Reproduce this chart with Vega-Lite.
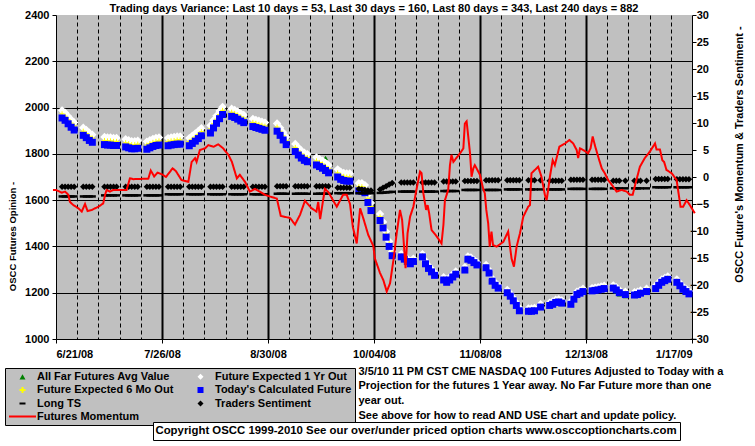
{
  "$schema": "https://vega.github.io/schema/vega-lite/v6.json",
  "width": 636,
  "height": 324,
  "autosize": {"type": "none"},
  "padding": {"left": 56, "top": 15, "right": 63, "bottom": 107},
  "background": "white",
  "config": {
    "font": "Liberation Sans",
    "view": {"fill": "#C0C0C0", "stroke": null},
    "axis": {"labelColor": "black", "tickColor": "black", "domainColor": "black", "gridColor": "black", "titleColor": "black", "labelFont": "Liberation Sans", "titleFont": "Liberation Sans", "labelFontWeight": "bold", "titleFontWeight": "bold", "labelFontSize": 11, "domainWidth": 1, "tickWidth": 1, "tickSize": 4, "labelOverlap": false},
    "legend": {"labelFont": "Liberation Sans", "labelColor": "black", "labelFontWeight": "bold", "labelFontSize": 11}
  },
  "title": {"text": "Trading days Variance:  Last 10 days = 53,  Last 30 days = 160,  Last 80 days = 343,  Last 240 days = 882", "anchor": "middle", "fontSize": 11, "fontWeight": "bold", "font": "Liberation Sans", "color": "black", "offset": 4, "dy": 9},
  "datasets": {
    "main": [
      {"d":"2008/06/23","today":1955,"y1":1988,"m6":1973,"far":1991,"ts":-1.8,"lts":-3.6},
      {"d":"2008/06/24","today":1945,"y1":1978,"m6":1963,"far":1981,"ts":-1.8,"lts":-3.6},
      {"d":"2008/06/25","today":1930,"y1":1963,"m6":1948,"far":1966,"ts":-1.8,"lts":-3.6},
      {"d":"2008/06/26","today":1915,"y1":1948,"m6":1933,"far":1951,"ts":-1.8,"lts":-3.6},
      {"d":"2008/06/27","today":1903,"y1":1936,"m6":1921,"far":1939,"ts":-1.8,"lts":-3.6},
      {"d":"2008/06/30","today":1880,"y1":1913,"m6":1898,"far":1916,"ts":-1.8,"lts":-3.6},
      {"d":"2008/07/01","today":1870,"y1":1903,"m6":1888,"far":1906,"ts":-1.8,"lts":-3.6},
      {"d":"2008/07/02","today":1858,"y1":1891,"m6":1876,"far":1894,"ts":-1.8,"lts":-3.6},
      {"d":"2008/07/03","today":1850,"y1":1883,"m6":1868,"far":1886,"ts":-1.8,"lts":-3.6},
      {"d":"2008/07/07","today":1840,"y1":1873,"m6":1858,"far":1876,"ts":-1.8,"lts":-3.4},
      {"d":"2008/07/08","today":1838,"y1":1871,"m6":1856,"far":1874,"ts":-1.8,"lts":-3.4},
      {"d":"2008/07/09","today":1838,"y1":1871,"m6":1856,"far":1874,"ts":-1.8,"lts":-3.4},
      {"d":"2008/07/10","today":1836,"y1":1869,"m6":1854,"far":1872,"ts":-1.8,"lts":-3.4},
      {"d":"2008/07/11","today":1836,"y1":1869,"m6":1854,"far":1872,"ts":-1.8,"lts":-3.4},
      {"d":"2008/07/14","today":1830,"y1":1863,"m6":1848,"far":1866,"ts":-1.8,"lts":-3.4},
      {"d":"2008/07/15","today":1826,"y1":1859,"m6":1844,"far":1862,"ts":-1.8,"lts":-3.4},
      {"d":"2008/07/16","today":1822,"y1":1855,"m6":1840,"far":1858,"ts":-1.8,"lts":-3.4},
      {"d":"2008/07/17","today":1822,"y1":1855,"m6":1840,"far":1858,"ts":-1.8,"lts":-3.4},
      {"d":"2008/07/18","today":1824,"y1":1857,"m6":1842,"far":1860,"ts":-1.8,"lts":-3.4},
      {"d":"2008/07/21","today":1820,"y1":1853,"m6":1838,"far":1856,"ts":-1.8,"lts":-3.4},
      {"d":"2008/07/22","today":1826,"y1":1859,"m6":1844,"far":1862,"ts":-1.8,"lts":-3.4},
      {"d":"2008/07/23","today":1832,"y1":1865,"m6":1850,"far":1868,"ts":-1.8,"lts":-3.4},
      {"d":"2008/07/24","today":1836,"y1":1869,"m6":1854,"far":1872,"ts":-1.8,"lts":-3.4},
      {"d":"2008/07/25","today":1838,"y1":1871,"m6":1856,"far":1874,"ts":-1.8,"lts":-3.4},
      {"d":"2008/07/28","today":1835,"y1":1868,"m6":1853,"far":1871,"ts":-1.8,"lts":-3.2},
      {"d":"2008/07/29","today":1838,"y1":1871,"m6":1856,"far":1874,"ts":-1.8,"lts":-3.2},
      {"d":"2008/07/30","today":1840,"y1":1873,"m6":1858,"far":1876,"ts":-1.8,"lts":-3.2},
      {"d":"2008/07/31","today":1842,"y1":1875,"m6":1860,"far":1878,"ts":-1.8,"lts":-3.2},
      {"d":"2008/08/01","today":1842,"y1":1875,"m6":1860,"far":1878,"ts":-1.8,"lts":-3.2},
      {"d":"2008/08/04","today":1835,"y1":1868,"m6":1853,"far":1871,"ts":-1.8,"lts":-3.2},
      {"d":"2008/08/05","today":1845,"y1":1878,"m6":1863,"far":1881,"ts":-1.8,"lts":-3.2},
      {"d":"2008/08/06","today":1855,"y1":1888,"m6":1873,"far":1891,"ts":-1.8,"lts":-3.2},
      {"d":"2008/08/07","today":1866,"y1":1899,"m6":1884,"far":1902,"ts":-1.8,"lts":-3.2},
      {"d":"2008/08/08","today":1878,"y1":1911,"m6":1896,"far":1914,"ts":-1.8,"lts":-3.2},
      {"d":"2008/08/11","today":1890,"y1":1923,"m6":1908,"far":1926,"ts":-1.8,"lts":-3.2},
      {"d":"2008/08/12","today":1912,"y1":1945,"m6":1930,"far":1948,"ts":-1.8,"lts":-3.2},
      {"d":"2008/08/13","today":1932,"y1":1965,"m6":1950,"far":1968,"ts":-1.8,"lts":-3.2},
      {"d":"2008/08/14","today":1952,"y1":1985,"m6":1970,"far":1988,"ts":-1.8,"lts":-3.2},
      {"d":"2008/08/15","today":1970,"y1":2003,"m6":1988,"far":2006,"ts":-1.8,"lts":-3.2},
      {"d":"2008/08/18","today":1962,"y1":1995,"m6":1980,"far":1998,"ts":-1.8,"lts":-3.2},
      {"d":"2008/08/19","today":1957,"y1":1990,"m6":1975,"far":1993,"ts":-1.8,"lts":-3.2},
      {"d":"2008/08/20","today":1950,"y1":1983,"m6":1968,"far":1986,"ts":-1.8,"lts":-3.2},
      {"d":"2008/08/21","today":1942,"y1":1975,"m6":1960,"far":1978,"ts":-1.8,"lts":-3.2},
      {"d":"2008/08/22","today":1935,"y1":1968,"m6":1953,"far":1971,"ts":-1.8,"lts":-3.2},
      {"d":"2008/08/25","today":1918,"y1":1951,"m6":1936,"far":1954,"ts":-1.8,"lts":-3.2},
      {"d":"2008/08/26","today":1914,"y1":1947,"m6":1932,"far":1950,"ts":-1.8,"lts":-3.2},
      {"d":"2008/08/27","today":1910,"y1":1943,"m6":1928,"far":1946,"ts":-1.8,"lts":-3.2},
      {"d":"2008/08/28","today":1906,"y1":1939,"m6":1924,"far":1942,"ts":-1.8,"lts":-3.2},
      {"d":"2008/08/29","today":1902,"y1":1935,"m6":1920,"far":1938,"ts":-1.8,"lts":-3.2},
      {"d":"2008/09/02","today":1898,"y1":1931,"m6":1916,"far":1934,"ts":-1.7,"lts":-3.1},
      {"d":"2008/09/03","today":1880,"y1":1913,"m6":1898,"far":1916,"ts":-1.7,"lts":-3.1},
      {"d":"2008/09/04","today":1860,"y1":1893,"m6":1878,"far":1896,"ts":-1.7,"lts":-3.1},
      {"d":"2008/09/05","today":1840,"y1":1873,"m6":1858,"far":1876,"ts":-1.7,"lts":-3.1},
      {"d":"2008/09/08","today":1810,"y1":1843,"m6":1828,"far":1846,"ts":-1.7,"lts":-3.1},
      {"d":"2008/09/09","today":1795,"y1":1828,"m6":1813,"far":1831,"ts":-1.7,"lts":-3.1},
      {"d":"2008/09/10","today":1782,"y1":1815,"m6":1800,"far":1818,"ts":-1.7,"lts":-3.1},
      {"d":"2008/09/11","today":1772,"y1":1805,"m6":1790,"far":1808,"ts":-1.7,"lts":-3.1},
      {"d":"2008/09/12","today":1766,"y1":1799,"m6":1784,"far":1802,"ts":-1.7,"lts":-3.1},
      {"d":"2008/09/15","today":1752,"y1":1785,"m6":1770,"far":1788,"ts":-1.7,"lts":-3.1},
      {"d":"2008/09/16","today":1745,"y1":1778,"m6":1763,"far":1781,"ts":-1.7,"lts":-3.1},
      {"d":"2008/09/17","today":1738,"y1":1771,"m6":1756,"far":1774,"ts":-1.7,"lts":-3.1},
      {"d":"2008/09/18","today":1728,"y1":1761,"m6":1746,"far":1783,"ts":-1.7,"lts":-3.1},
      {"d":"2008/09/19","today":1718,"y1":1751,"m6":1736,"far":1754,"ts":-1.7,"lts":-3.1},
      {"d":"2008/09/22","today":1700,"y1":1733,"m6":1718,"far":1736,"ts":-2.0,"lts":-3.0},
      {"d":"2008/09/23","today":1690,"y1":1723,"m6":1708,"far":1726,"ts":-2.0,"lts":-3.0},
      {"d":"2008/09/24","today":1685,"y1":1718,"m6":1703,"far":1721,"ts":-2.0,"lts":-3.0},
      {"d":"2008/09/25","today":1682,"y1":1715,"m6":1700,"far":1718,"ts":-2.0,"lts":-3.0},
      {"d":"2008/09/26","today":1682,"y1":1715,"m6":1700,"far":1718,"ts":-2.0,"lts":-3.0},
      {"d":"2008/09/29","today":1640,"y1":1673,"m6":1658,"far":1676,"ts":-2.2,"lts":-3.0},
      {"d":"2008/09/30","today":1640,"y1":1673,"m6":1658,"far":1676,"ts":-2.3,"lts":-3.0},
      {"d":"2008/10/01","today":1632,"y1":1665,"m6":1650,"far":1668,"ts":-2.4,"lts":-3.0},
      {"d":"2008/10/02","today":1590,"y1":1623,"m6":1608,"far":1626,"ts":-2.5,"lts":-3.0},
      {"d":"2008/10/03","today":1555,"y1":1588,"m6":1573,"far":1591,"ts":-2.5,"lts":-3.0},
      {"d":"2008/10/06","today":1512,"y1":1540,"m6":1528,"far":1543,"ts":-2.3,"lts":-2.95},
      {"d":"2008/10/07","today":1480,"y1":1506,"m6":1494,"far":1509,"ts":-2.0,"lts":-2.9},
      {"d":"2008/10/08","today":1440,"y1":1464,"m6":1453,"far":1466,"ts":-1.7,"lts":-2.85},
      {"d":"2008/10/09","today":1400,"y1":1422,"m6":1412,"far":1424,"ts":-1.4,"lts":-2.8},
      {"d":"2008/10/10","today":1360,"y1":1378,"m6":1370,"far":1380,"ts":-1.1,"lts":-2.75},
      {"d":"2008/10/13","today":1355,"y1":1367,"m6":1361,"far":1364,"ts":-1.0,"lts":-2.7},
      {"d":"2008/10/14","today":1345,"y1":1357,"m6":1351,"far":1354,"ts":-1.0,"lts":-2.7},
      {"d":"2008/10/15","today":1335,"y1":1347,"m6":1341,"far":1344,"ts":-1.0,"lts":-2.7},
      {"d":"2008/10/16","today":1325,"y1":1337,"m6":1331,"far":1334,"ts":-1.0,"lts":-2.7},
      {"d":"2008/10/17","today":1335,"y1":1347,"m6":1341,"far":1344,"ts":-1.0,"lts":-2.7},
      {"d":"2008/10/20","today":1355,"y1":1367,"m6":1361,"far":1364,"ts":-1.0,"lts":-2.7},
      {"d":"2008/10/21","today":1325,"y1":1337,"m6":1331,"far":1334,"ts":-1.0,"lts":-2.7},
      {"d":"2008/10/22","today":1305,"y1":1317,"m6":1311,"far":1314,"ts":-1.0,"lts":-2.7},
      {"d":"2008/10/23","today":1290,"y1":1302,"m6":1296,"far":1299,"ts":-1.0,"lts":-2.7},
      {"d":"2008/10/24","today":1275,"y1":1287,"m6":1281,"far":1284,"ts":-1.0,"lts":-2.7},
      {"d":"2008/10/27","today":1255,"y1":1267,"m6":1261,"far":1264,"ts":-0.85,"lts":-2.6},
      {"d":"2008/10/28","today":1245,"y1":1257,"m6":1251,"far":1254,"ts":-0.85,"lts":-2.6},
      {"d":"2008/10/29","today":1255,"y1":1267,"m6":1261,"far":1264,"ts":-0.85,"lts":-2.6},
      {"d":"2008/10/30","today":1268,"y1":1280,"m6":1274,"far":1277,"ts":-0.85,"lts":-2.6},
      {"d":"2008/10/31","today":1280,"y1":1292,"m6":1286,"far":1289,"ts":-0.85,"lts":-2.6},
      {"d":"2008/11/03","today":1298,"y1":1310,"m6":1304,"far":1307,"ts":-0.75,"lts":-2.4},
      {"d":"2008/11/04","today":1345,"y1":1357,"m6":1351,"far":1354,"ts":-0.75,"lts":-2.4},
      {"d":"2008/11/05","today":1340,"y1":1352,"m6":1346,"far":1349,"ts":-0.75,"lts":-2.4},
      {"d":"2008/11/06","today":1330,"y1":1342,"m6":1336,"far":1339,"ts":-0.75,"lts":-2.4},
      {"d":"2008/11/07","today":1320,"y1":1332,"m6":1326,"far":1329,"ts":-0.75,"lts":-2.4},
      {"d":"2008/11/10","today":1308,"y1":1320,"m6":1314,"far":1317,"ts":-0.6,"lts":-2.4},
      {"d":"2008/11/11","today":1285,"y1":1297,"m6":1291,"far":1294,"ts":-0.6,"lts":-2.4},
      {"d":"2008/11/12","today":1250,"y1":1262,"m6":1256,"far":1259,"ts":-0.6,"lts":-2.4},
      {"d":"2008/11/13","today":1232,"y1":1244,"m6":1238,"far":1241,"ts":-0.6,"lts":-2.4},
      {"d":"2008/11/14","today":1220,"y1":1232,"m6":1226,"far":1229,"ts":-0.6,"lts":-2.4},
      {"d":"2008/11/17","today":1200,"y1":1212,"m6":1206,"far":1209,"ts":-0.6,"lts":-2.3},
      {"d":"2008/11/18","today":1185,"y1":1197,"m6":1191,"far":1194,"ts":-0.6,"lts":-2.3},
      {"d":"2008/11/19","today":1165,"y1":1177,"m6":1171,"far":1174,"ts":-0.6,"lts":-2.3},
      {"d":"2008/11/20","today":1145,"y1":1157,"m6":1151,"far":1154,"ts":-0.6,"lts":-2.3},
      {"d":"2008/11/21","today":1122,"y1":1134,"m6":1128,"far":1131,"ts":-0.6,"lts":-2.3},
      {"d":"2008/11/24","today":1120,"y1":1132,"m6":1126,"far":1129,"ts":-0.6,"lts":-2.3},
      {"d":"2008/11/25","today":1120,"y1":1132,"m6":1126,"far":1129,"ts":-0.6,"lts":-2.3},
      {"d":"2008/11/26","today":1122,"y1":1134,"m6":1128,"far":1131,"ts":-0.6,"lts":-2.3},
      {"d":"2008/11/28","today":1138,"y1":1150,"m6":1144,"far":1147,"ts":-0.6,"lts":-2.3},
      {"d":"2008/12/01","today":1145,"y1":1157,"m6":1151,"far":1154,"ts":-0.7,"lts":-2.3},
      {"d":"2008/12/02","today":1150,"y1":1162,"m6":1156,"far":1159,"ts":-0.7,"lts":-2.3},
      {"d":"2008/12/03","today":1158,"y1":1170,"m6":1164,"far":1167,"ts":-0.7,"lts":-2.3},
      {"d":"2008/12/04","today":1160,"y1":1172,"m6":1166,"far":1169,"ts":-0.7,"lts":-2.3},
      {"d":"2008/12/05","today":1155,"y1":1167,"m6":1161,"far":1164,"ts":-0.7,"lts":-2.3},
      {"d":"2008/12/08","today":1150,"y1":1162,"m6":1156,"far":1159,"ts":-0.5,"lts":-2.2},
      {"d":"2008/12/09","today":1172,"y1":1184,"m6":1178,"far":1181,"ts":-0.5,"lts":-2.2},
      {"d":"2008/12/10","today":1192,"y1":1204,"m6":1198,"far":1201,"ts":-0.5,"lts":-2.2},
      {"d":"2008/12/11","today":1198,"y1":1210,"m6":1204,"far":1207,"ts":-0.5,"lts":-2.2},
      {"d":"2008/12/12","today":1205,"y1":1217,"m6":1211,"far":1214,"ts":-0.5,"lts":-2.2},
      {"d":"2008/12/15","today":1208,"y1":1220,"m6":1214,"far":1217,"ts":-0.5,"lts":-2.2},
      {"d":"2008/12/16","today":1210,"y1":1222,"m6":1216,"far":1219,"ts":-0.5,"lts":-2.2},
      {"d":"2008/12/17","today":1212,"y1":1224,"m6":1218,"far":1221,"ts":-0.5,"lts":-2.2},
      {"d":"2008/12/18","today":1215,"y1":1227,"m6":1221,"far":1224,"ts":-0.5,"lts":-2.2},
      {"d":"2008/12/19","today":1218,"y1":1230,"m6":1224,"far":1227,"ts":-0.5,"lts":-2.2},
      {"d":"2008/12/22","today":1220,"y1":1232,"m6":1226,"far":1229,"ts":-0.7,"lts":-2.1},
      {"d":"2008/12/23","today":1212,"y1":1224,"m6":1218,"far":1205,"ts":-0.7,"lts":-2.1},
      {"d":"2008/12/24","today":1200,"y1":1212,"m6":1206,"far":1193,"ts":-0.7,"lts":-2.1},
      {"d":"2008/12/26","today":1192,"y1":1204,"m6":1198,"far":1185,"ts":-0.7,"lts":-2.1},
      {"d":"2008/12/29","today":1190,"y1":1202,"m6":1196,"far":1199,"ts":-0.7,"lts":-2.1},
      {"d":"2008/12/30","today":1192,"y1":1204,"m6":1198,"far":1201,"ts":-0.7,"lts":-2.1},
      {"d":"2008/12/31","today":1198,"y1":1210,"m6":1204,"far":1207,"ts":-0.7,"lts":-2.1},
      {"d":"2009/01/02","today":1205,"y1":1217,"m6":1211,"far":1214,"ts":-0.7,"lts":-2.1},
      {"d":"2009/01/05","today":1218,"y1":1230,"m6":1224,"far":1227,"ts":-0.35,"lts":-1.9},
      {"d":"2009/01/06","today":1232,"y1":1244,"m6":1238,"far":1241,"ts":-0.35,"lts":-1.9},
      {"d":"2009/01/07","today":1245,"y1":1257,"m6":1251,"far":1254,"ts":-0.35,"lts":-1.9},
      {"d":"2009/01/08","today":1252,"y1":1264,"m6":1258,"far":1261,"ts":-0.35,"lts":-1.9},
      {"d":"2009/01/09","today":1258,"y1":1270,"m6":1264,"far":1267,"ts":-0.35,"lts":-1.9},
      {"d":"2009/01/12","today":1245,"y1":1257,"m6":1251,"far":1254,"ts":-0.4,"lts":-1.9},
      {"d":"2009/01/13","today":1230,"y1":1242,"m6":1236,"far":1239,"ts":-0.4,"lts":-1.9},
      {"d":"2009/01/14","today":1215,"y1":1227,"m6":1221,"far":1224,"ts":-0.4,"lts":-1.9},
      {"d":"2009/01/15","today":1205,"y1":1217,"m6":1211,"far":1214,"ts":-0.4,"lts":-1.9},
      {"d":"2009/01/16","today":1195,"y1":1207,"m6":1201,"far":1204,"ts":-0.4,"lts":-1.9}
    ],
    "mom": [
      {"d":"2008/06/20","mom":-2.4},{"d":"2008/06/21","mom":-2.4},{"d":"2008/06/22 22:00","mom":-2.9},{"d":"2008/06/24","mom":-2.7},
      {"d":"2008/06/25 02:00","mom":-3.3},{"d":"2008/06/25 14:00","mom":-4.6},{"d":"2008/06/26 17:00","mom":-5.2},{"d":"2008/06/28 10:00","mom":-5.8},
      {"d":"2008/06/29 12:00","mom":-6.4},{"d":"2008/06/30 14:00","mom":-5.0},{"d":"2008/07/01 10:00","mom":-6.3},{"d":"2008/07/02 19:00","mom":-6.1},
      {"d":"2008/07/05","mom":-5.5},{"d":"2008/07/06 14:00","mom":-4.9},{"d":"2008/07/07 05:00","mom":-3.3},{"d":"2008/07/07 17:00","mom":-2.4},
      {"d":"2008/07/08 19:00","mom":-2.7},{"d":"2008/07/09 22:00","mom":-2.4},{"d":"2008/07/14 07:00","mom":-2.4},{"d":"2008/07/15 10:00","mom":-0.25},
      {"d":"2008/07/16 12:00","mom":-0.4},{"d":"2008/07/21 12:00","mom":-0.3},{"d":"2008/07/22 07:00","mom":1.2},{"d":"2008/07/23 10:00","mom":0.1},
      {"d":"2008/07/24 12:00","mom":0.8},{"d":"2008/07/26","mom":0.5},{"d":"2008/07/27 07:00","mom":0.0},{"d":"2008/07/29 12:00","mom":1.6},
      {"d":"2008/07/30 14:00","mom":1.1},{"d":"2008/08/01 10:00","mom":-0.55},{"d":"2008/08/03 17:00","mom":-0.9},{"d":"2008/08/04 19:00","mom":2.8},
      {"d":"2008/08/05 22:00","mom":3.5},{"d":"2008/08/06 10:00","mom":2.8},{"d":"2008/08/07 12:00","mom":5.0},{"d":"2008/08/09 05:00","mom":5.3},
      {"d":"2008/08/10 07:00","mom":5.9},{"d":"2008/08/12","mom":5.6},{"d":"2008/08/13 14:00","mom":6.05},{"d":"2008/08/15 05:00","mom":5.3},
      {"d":"2008/08/16 22:00","mom":4.1},{"d":"2008/08/18 02:00","mom":2.8},{"d":"2008/08/19 17:00","mom":-0.25},{"d":"2008/08/20 17:00","mom":0.4},
      {"d":"2008/08/22 10:00","mom":-0.9},{"d":"2008/08/24","mom":-2.7},{"d":"2008/08/25 17:00","mom":-2.2},{"d":"2008/08/27 07:00","mom":-2.7},
      {"d":"2008/08/29","mom":-3.3},{"d":"2008/08/30 14:00","mom":-3.6},{"d":"2008/09/01 22:00","mom":-4.0},{"d":"2008/09/03 05:00","mom":-7.2},
      {"d":"2008/09/06 07:00","mom":-7.6},{"d":"2008/09/07 22:00","mom":-8.8},{"d":"2008/09/09 14:00","mom":-7.0},{"d":"2008/09/11 05:00","mom":-4.4},
      {"d":"2008/09/13 10:00","mom":-5.8},{"d":"2008/09/15","mom":-6.4},{"d":"2008/09/15 14:00","mom":-4.6},{"d":"2008/09/16 05:00","mom":-7.8},
      {"d":"2008/09/17 19:00","mom":-2.2},{"d":"2008/09/18 22:00","mom":-2.8},{"d":"2008/09/21 17:00","mom":-5.5},{"d":"2008/09/23 19:00","mom":-3.3},
      {"d":"2008/09/25","mom":-3.3},{"d":"2008/09/26 02:00","mom":-5.0},{"d":"2008/09/27","mom":-9.2},{"d":"2008/09/28 07:00","mom":-12.3},
      {"d":"2008/09/29 10:00","mom":-5.8},{"d":"2008/09/30 12:00","mom":-7.7},{"d":"2008/10/02 02:00","mom":-10.7},{"d":"2008/10/03 19:00","mom":-12.8},
      {"d":"2008/10/04 07:00","mom":-15.1},{"d":"2008/10/06","mom":-17.8},{"d":"2008/10/07 02:00","mom":-19.1},{"d":"2008/10/08 05:00","mom":-21.2},
      {"d":"2008/10/09 07:00","mom":-19.7},{"d":"2008/10/10 10:00","mom":-15.4},{"d":"2008/10/11 12:00","mom":-10.4},{"d":"2008/10/12 14:00","mom":-6.1},
      {"d":"2008/10/13 07:00","mom":-8.0},{"d":"2008/10/14","mom":-13.5},{"d":"2008/10/14 10:00","mom":-16.9},{"d":"2008/10/15 02:00","mom":-10.4},
      {"d":"2008/10/15 22:00","mom":-7.35},{"d":"2008/10/17","mom":-5.5},{"d":"2008/10/17 19:00","mom":-3.0},{"d":"2008/10/18 10:00","mom":-1.2},
      {"d":"2008/10/19 05:00","mom":1.0},{"d":"2008/10/19 17:00","mom":0.7},{"d":"2008/10/20 07:00","mom":-3.0},{"d":"2008/10/21 05:00","mom":-6.1},
      {"d":"2008/10/21 17:00","mom":-5.2},{"d":"2008/10/22 05:00","mom":-6.7},{"d":"2008/10/23","mom":-9.8},{"d":"2008/10/24 17:00","mom":-11.0},
      {"d":"2008/10/26 07:00","mom":-12.3},{"d":"2008/10/26 22:00","mom":-8.9},{"d":"2008/10/27 10:00","mom":-4.3},{"d":"2008/10/28 12:00","mom":-2.4},
      {"d":"2008/10/29 02:00","mom":2.2},{"d":"2008/10/29 14:00","mom":4.1},{"d":"2008/10/30 05:00","mom":2.8},{"d":"2008/11/01 10:00","mom":4.4},
      {"d":"2008/11/02 12:00","mom":5.3},{"d":"2008/11/03","mom":9.9},{"d":"2008/11/03 14:00","mom":10.3},{"d":"2008/11/04 17:00","mom":4.4},
      {"d":"2008/11/05 05:00","mom":0.06},{"d":"2008/11/05 19:00","mom":1.6},{"d":"2008/11/06 07:00","mom":2.2},{"d":"2008/11/08","mom":0.4},
      {"d":"2008/11/09","mom":-2.1},{"d":"2008/11/09 14:00","mom":-3.0},{"d":"2008/11/10 02:00","mom":-6.1},{"d":"2008/11/10 17:00","mom":-8.6},
      {"d":"2008/11/11 05:00","mom":-12.9},{"d":"2008/11/11 19:00","mom":-10.1},{"d":"2008/11/12 07:00","mom":-12.6},{"d":"2008/11/13 12:00","mom":-12.9},
      {"d":"2008/11/15 17:00","mom":-12.0},{"d":"2008/11/16 19:00","mom":-10.7},{"d":"2008/11/17 07:00","mom":-10.1},{"d":"2008/11/17 22:00","mom":-12.9},
      {"d":"2008/11/18 10:00","mom":-15.1},{"d":"2008/11/19 05:00","mom":-16.6},{"d":"2008/11/20 02:00","mom":-12.9},{"d":"2008/11/21 05:00","mom":-10.4},
      {"d":"2008/11/22 07:00","mom":-7.35},{"d":"2008/11/23 22:00","mom":-5.5},{"d":"2008/11/24 12:00","mom":-5.2},{"d":"2008/11/25","mom":0.7},
      {"d":"2008/11/27 05:00","mom":1.9},{"d":"2008/11/28 07:00","mom":0.06},{"d":"2008/11/29 10:00","mom":-3.3},{"d":"2008/11/30","mom":-4.3},
      {"d":"2008/11/30 12:00","mom":-2.4},{"d":"2008/12/01 02:00","mom":0.06},{"d":"2008/12/02","mom":3.1},{"d":"2008/12/02 17:00","mom":2.2},
      {"d":"2008/12/03 07:00","mom":3.5},{"d":"2008/12/04 05:00","mom":5.6},{"d":"2008/12/06 02:00","mom":6.2},{"d":"2008/12/07 12:00","mom":6.85},
      {"d":"2008/12/08 19:00","mom":6.2},{"d":"2008/12/09 22:00","mom":5.0},{"d":"2008/12/10 10:00","mom":3.5},{"d":"2008/12/11","mom":5.3},
      {"d":"2008/12/12 02:00","mom":5.0},{"d":"2008/12/13 17:00","mom":4.4},{"d":"2008/12/14 12:00","mom":5.3},{"d":"2008/12/15 05:00","mom":7.5},
      {"d":"2008/12/15 22:00","mom":5.9},{"d":"2008/12/17","mom":3.8},{"d":"2008/12/18 05:00","mom":1.6},{"d":"2008/12/19 05:00","mom":0.7},
      {"d":"2008/12/20 07:00","mom":-0.55},{"d":"2008/12/22","mom":-1.8},{"d":"2008/12/23 02:00","mom":-2.7},{"d":"2008/12/24 19:00","mom":-2.4},
      {"d":"2008/12/26 10:00","mom":-2.7},{"d":"2008/12/27 12:00","mom":-3.3},{"d":"2008/12/28 10:00","mom":-3.3},{"d":"2008/12/29 05:00","mom":-1.5},
      {"d":"2008/12/30 19:00","mom":1.9},{"d":"2009/01/01 10:00","mom":3.5},{"d":"2009/01/03 02:00","mom":4.7},{"d":"2009/01/04 19:00","mom":6.2},
      {"d":"2009/01/05 07:00","mom":5.1},{"d":"2009/01/06 10:00","mom":5.1},{"d":"2009/01/07 05:00","mom":3.1},{"d":"2009/01/07 19:00","mom":2.8},
      {"d":"2009/01/08 14:00","mom":1.3},{"d":"2009/01/10 07:00","mom":0.7},{"d":"2009/01/11 22:00","mom":-0.55},{"d":"2009/01/13 05:00","mom":-5.5},
      {"d":"2009/01/14 02:00","mom":-5.5},{"d":"2009/01/15 05:00","mom":-4.3},{"d":"2009/01/16 07:00","mom":-5.2},{"d":"2009/01/17 22:00","mom":-6.7}
    ]
  },
  "encoding": {
    "x": {
      "field": "d", "type": "temporal",
      "scale": {"domain": [{"year": 2008, "month": 6, "date": 21}, {"year": 2009, "month": 1, "date": 17}], "nice": false},
      "axis": {
        "values": [
          {"year":2008,"month":6,"date":21},{"year":2008,"month":6,"date":28},{"year":2008,"month":7,"date":5},{"year":2008,"month":7,"date":12},{"year":2008,"month":7,"date":19},
          {"year":2008,"month":7,"date":26},{"year":2008,"month":8,"date":2},{"year":2008,"month":8,"date":9},{"year":2008,"month":8,"date":16},{"year":2008,"month":8,"date":23},
          {"year":2008,"month":8,"date":30},{"year":2008,"month":9,"date":6},{"year":2008,"month":9,"date":13},{"year":2008,"month":9,"date":20},{"year":2008,"month":9,"date":27},
          {"year":2008,"month":10,"date":4},{"year":2008,"month":10,"date":11},{"year":2008,"month":10,"date":18},{"year":2008,"month":10,"date":25},{"year":2008,"month":11,"date":1},
          {"year":2008,"month":11,"date":8},{"year":2008,"month":11,"date":15},{"year":2008,"month":11,"date":22},{"year":2008,"month":11,"date":29},{"year":2008,"month":12,"date":6},
          {"year":2008,"month":12,"date":13},{"year":2008,"month":12,"date":20},{"year":2008,"month":12,"date":27},{"year":2009,"month":1,"date":3},{"year":2009,"month":1,"date":10},
          {"year":2009,"month":1,"date":17}
        ],
        "format": "%-m/%d/%y",
        "labelExpr": "round((datum.value - datetime(2008,5,21))/864e5) % 35 === 0 ? datum.label : ''",
        "labelPadding": 5,
        "labelFontSize": 11,
        "labelOverlap": false,
        "tickOpacity": {"condition": {"test": "round((datum.value - datetime(2008,5,21))/864e5) % 35 === 0", "value": 1}, "value": 0},
        "grid": true,
        "gridColor": "black",
        "gridDash": {"condition": {"test": "round((datum.value - datetime(2008,5,21))/864e5) % 35 === 0", "value": []}, "value": [4, 3]},
        "gridWidth": {"condition": {"test": "round((datum.value - datetime(2008,5,21))/864e5) % 35 === 0", "value": 2}, "value": 1},
        "gridOpacity": {"condition": {"test": "round((datum.value - datetime(2008,5,21))/864e5) % 210 === 0", "value": 0}, "value": 1},
        "title": ["3/5/10 11 PM CST CME NASDAQ 100  Futures Adjusted to Today with a", "Projection for the futures 1 Year away. No Far Future more than one", "year out.", "See above for how to read AND USE chart and update policy."],
        "titleX": 302, "titleY": 26, "titleAlign": "left", "titleAnchor": "start", "titleBaseline": "top", "titleAngle": 0,
        "titleFontSize": 11, "titleFontWeight": "bold", "titleLineHeight": 14.8
      }
    }
  },
  "layer": [
    {
      "data": {"name": "main"},
      "layer": [
        {
          "mark": {"type": "point", "filled": true, "size": 25, "opacity": 1, "strokeWidth": 0},
          "encoding": {
            "y": {"field": "far", "type": "quantitative", "scale": {"domain": [1000, 2400], "nice": false, "zero": false},
              "axis": {
                "values": [1000,1100,1200,1300,1400,1500,1600,1700,1800,1900,2000,2100,2200,2300,2400],
                "format": "d",
                "labelExpr": "datum.value % 200 === 0 ? datum.label : ''",
                "labelOverlap": false,
                "tickOpacity": {"condition": {"test": "datum.value % 200 === 0", "value": 1}, "value": 0},
                "grid": true, "gridColor": "black", "gridWidth": 1.2,
                "gridOpacity": {"condition": {"test": "datum.value === 2400 || datum.value === 1000", "value": 0}, "value": 1},
                "labelPadding": 3, "labelFontSize": 11,
                "title": "OSCC Futures Opinion -", "titleFontSize": 9.5, "titleX": -44, "titleY": 221, "titleAngle": 270, "titleAlign": "center", "titleBaseline": "middle"
              }
            },
            "fill": {
              "datum": "All Far Futures Avg Value",
              "scale": {
                "domain": ["All Far Futures Avg Value", "Future Expected 1 Yr Out", "Future Expected 6 Mo Out", "Today's Calculated Future", "Long TS", "Traders Sentiment", "Futures Momentum"],
                "range": ["#008000", "#FFFFFF", "transparent", "#0000FF", "transparent", "#000000", "transparent"]
              },
              "legend": {
                "title": null, "orient": "none", "legendX": -51, "legendY": 353, "columns": 2, "direction": "horizontal",
                "fillColor": "#C0C0C0", "strokeColor": "black", "padding": 3,
                "symbolSize": 36, "symbolStrokeWidth": 2, "symbolOpacity": 1, "symbolOffset": 9, "labelOffset": 9, "columnPadding": 12, "rowPadding": -1.5,
                "labelFontSize": 11, "labelFontWeight": "bold", "labelColor": "black", "labelLimit": 200
              }
            },
            "shape": {
              "datum": "All Far Futures Avg Value",
              "scale": {
                "domain": ["All Far Futures Avg Value", "Future Expected 1 Yr Out", "Future Expected 6 Mo Out", "Today's Calculated Future", "Long TS", "Traders Sentiment", "Futures Momentum"],
                "range": ["triangle-up", "diamond", "M-1,0L1,0M0,-1L0,1", "square", "stroke", "diamond", "M-4.5,0L4.5,0"]
              }
            }
          }
        },
        {
          "mark": {"type": "point", "filled": true, "size": 70, "opacity": 1, "strokeWidth": 0},
          "encoding": {
            "y": {"field": "y1", "type": "quantitative"},
            "fill": {"datum": "Future Expected 1 Yr Out"},
            "shape": {"datum": "Future Expected 1 Yr Out"}
          }
        },
        {
          "mark": {"type": "point", "filled": false, "strokeWidth": 1, "size": 25, "opacity": 1},
          "encoding": {
            "y": {"field": "m6", "type": "quantitative"},
            "stroke": {
              "datum": "Future Expected 6 Mo Out",
              "scale": {
                "domain": ["All Far Futures Avg Value", "Future Expected 1 Yr Out", "Future Expected 6 Mo Out", "Today's Calculated Future", "Long TS", "Traders Sentiment", "Futures Momentum"],
                "range": ["transparent", "transparent", "#FFFF00", "transparent", "#000000", "transparent", "#FF0000"]
              }
            },
            "shape": {"datum": "Future Expected 6 Mo Out"}
          }
        },
        {
          "mark": {"type": "point", "filled": true, "size": 49, "opacity": 1, "strokeWidth": 0},
          "encoding": {
            "y": {"field": "today", "type": "quantitative"},
            "fill": {"datum": "Today's Calculated Future"},
            "shape": {"datum": "Today's Calculated Future"}
          }
        }
      ]
    },
    {
      "data": {"name": "main"},
      "mark": {"type": "point", "filled": false, "strokeWidth": 2.5, "size": 49, "opacity": 1},
      "encoding": {
        "y": {"field": "lts", "type": "quantitative", "scale": {"domain": [-30, 30], "nice": false, "zero": false},
          "axis": {
            "orient": "right", "values": [-30,-25,-20,-15,-10,-5,0,5,10,15,20,25,30], "grid": false, "format": "d",
            "labelAlign": "right", "labelPadding": 12.5, "labelFontSize": 11, "tickSize": 4,
            "labelOverlap": false, "labelFlush": false, "labelBound": false, "labelSeparation": 0,
            "title": "OSCC Future's Momentum & Traders Sentiment -", "titleFontSize": 11, "titleAngle": 270,
            "titleX": 47, "titleY": 139, "titleAlign": "center", "titleBaseline": "middle"
          }
        },
        "stroke": {"datum": "Long TS"},
        "shape": {"datum": "Long TS"}
      }
    },
    {
      "data": {"name": "main"},
      "mark": {"type": "point", "filled": true, "size": 42, "opacity": 1, "strokeWidth": 0},
      "encoding": {
        "y": {"field": "ts", "type": "quantitative", "scale": {"domain": [-30, 30], "nice": false, "zero": false}, "axis": null},
        "fill": {"datum": "Traders Sentiment"},
        "shape": {"datum": "Traders Sentiment"}
      }
    },
    {
      "data": {"name": "mom"},
      "mark": {"type": "line", "strokeWidth": 2},
      "encoding": {
        "y": {"field": "mom", "type": "quantitative", "scale": {"domain": [-30, 30], "nice": false, "zero": false}, "axis": null},
        "stroke": {"datum": "Futures Momentum"},
        "strokeDash": {
          "datum": "Copyright OSCC 1999-2010 See our over/under priced option charts www.osccoptioncharts.com",
          "scale": {"range": [[1, 0]]},
          "legend": {
            "title": null, "orient": "none", "legendX": 97, "legendY": 407,
            "fillColor": "white", "strokeColor": "black", "padding": 3,
            "symbolSize": 0, "symbolStrokeWidth": 0, "symbolOpacity": 0, "labelOffset": -12,
            "labelFontSize": 11.4, "labelFontWeight": "bold", "labelColor": "black", "labelLimit": 0
          }
        }
      }
    }
  ],
  "resolve": {"scale": {"y": "independent"}}
}
